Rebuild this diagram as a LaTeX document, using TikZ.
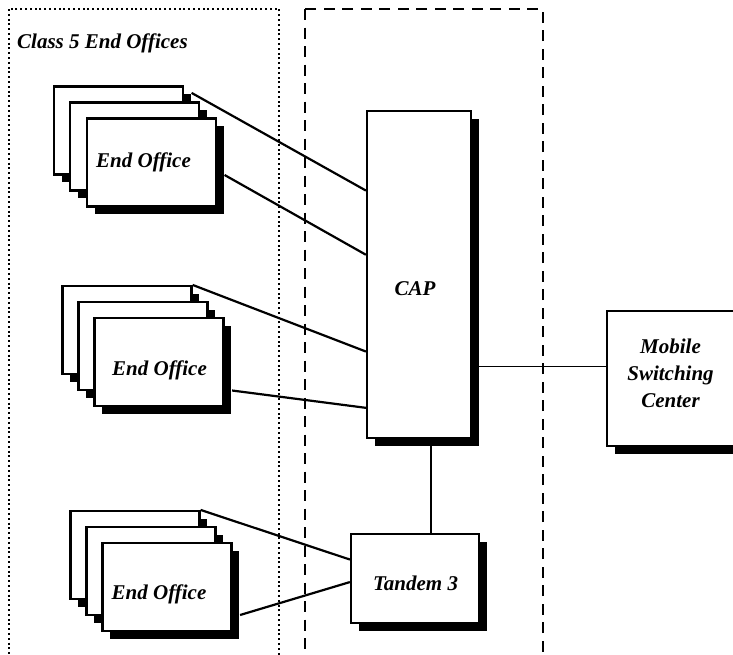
\documentclass[tikz,border=0pt]{standalone}
\usepackage{fontspec}
\setmainfont{Liberation Serif}
\usetikzlibrary{shadows,calc}
\begin{document}
\begin{tikzpicture}[x=1pt,y=-1pt,
  every node/.style={font=\fontsize{21}{27}\selectfont\bfseries\itshape},
  box/.style={draw, line width=2.2pt, fill=white, inner sep=0pt,
    drop shadow={opacity=1, fill=black, shadow xshift=7.5pt, shadow yshift=-7.5pt}},
  office/.style={box, minimum width=129pt, minimum height=88pt},
  lbl/.style={inner sep=0pt, anchor=base},
  link/.style={line width=2.2pt},
  tie/.style={line width=1.1pt},
  zone/.style={line width=1.8pt, dash pattern=on 2pt off 2.8pt},
  region/.style={line width=2.2pt, dash pattern=on 11pt off 7.5pt}]
\useasboundingbox (0,0) rectangle (733,654);
\clip (0,0) rectangle (733,654);

% enclosing regions
\draw[zone] (9,9) rectangle (279,720);
\draw[region] (305,9) rectangle (543,720);
\node[inner sep=0pt, anchor=base west] (title) at (17,48.5) {Class 5 End Offices};

% first stack of end offices
\node[office] (b1) at (118.5,130.5) {};
\node[office] (m1) at (134.5,146.5) {};
\node[office] (f1) at (151.5,162.5) {};
\node[lbl] (t1) at (143.5,167) {End Office};

% second stack
\node[office] (b2) at (127,330) {};
\node[office] (m2) at (143,346) {};
\node[office] (f2) at (159,362) {};
\node[lbl] (t2) at (159.5,375) {End Office};

% third stack
\node[office] (b3) at (135,555) {};
\node[office] (m3) at (151,571) {};
\node[office] (f3) at (167,587) {};
\node[lbl] (t3) at (159,599) {End Office};

% switching equipment
\node[box, minimum width=104pt, minimum height=327pt] (cap) at (419,274.5) {};
\node[lbl] (captext) at (415,295) {CAP};
\node[box, minimum width=128pt, minimum height=89pt] (tandem) at (415,578.5) {};
\node[lbl] (tandemtext) at (415.5,590.5) {Tandem 3};
\node[box, minimum width=128pt, minimum height=135pt] (msc) at (671,378.5) {};
\node[inner sep=0pt, anchor=north, align=center] (msctext) at (670.5,338.7)
  {Mobile\\Switching\\Center};

% trunks from the end offices
\draw[link] ([shift={(7.5,7.5)}]b1.north east) -- ($(cap.north west)!0.245!(cap.south west)$);
\draw[link] ([shift={(7.5,12.5)}]f1.east) -- ($(cap.north west)!0.44!(cap.south west)$);
\draw[link] (b2.north east) -- ($(cap.north west)!0.734!(cap.south west)$);
\draw[link] ([shift={(7.5,28.5)}]f2.east) -- ($(cap.north west)!0.905!(cap.south west)$);
\draw[link] (b3.north east) -- ($(tandem.north west)!0.292!(tandem.south west)$);
\draw[link] ([shift={(7.5,28)}]f3.east) -- ($(tandem.north west)!0.539!(tandem.south west)$);

% links from the CAP
\coordinate (mscin) at ($(msc.north west)!0.415!(msc.south west)$);
\draw[tie] (cap.east |- mscin) -- (mscin);
\coordinate (tandemin) at ([xshift=16pt]tandem.north);
\draw[tie] (tandemin |- cap.south) -- (tandemin);
\end{tikzpicture}
\end{document}
